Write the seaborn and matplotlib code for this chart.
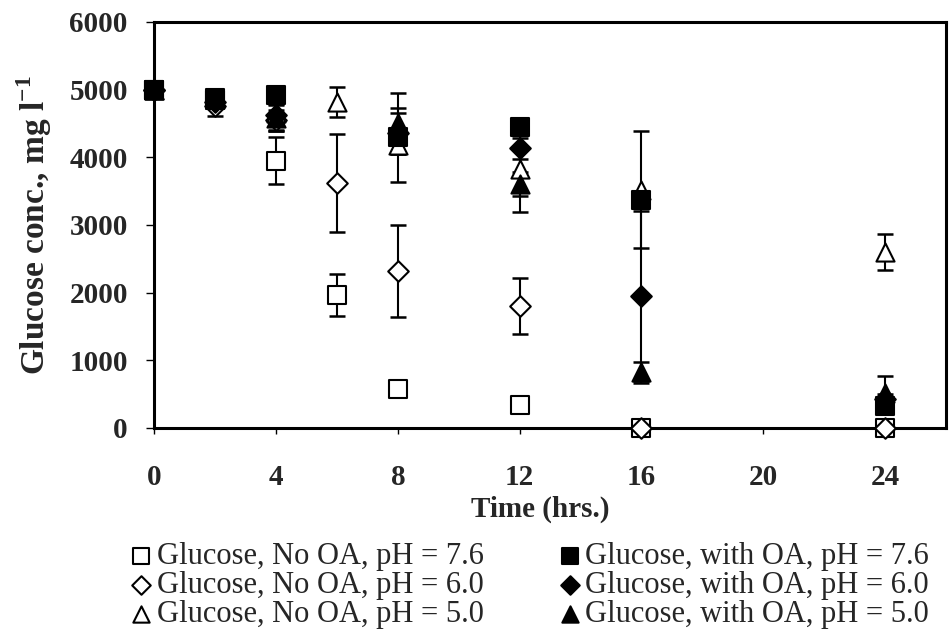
import matplotlib
matplotlib.use("Agg")
import matplotlib.pyplot as plt
import seaborn as sns
import pandas as pd

# ---- data ----
times_no_oa = [0, 2, 4, 6, 8, 12, 16, 24]
times_oa = [0, 2, 4, 8, 12, 16, 24]

no_oa_76 = [5000, 4880, 3950, 1960, 580, 340, 0, 0]
no_oa_76_err = [0, 80, 350, 310, 90, 60, 0, 0]
no_oa_60 = [5000, 4760, 4550, 3620, 2320, 1800, 0, 0]
no_oa_60_err = [0, 150, 150, 720, 680, 420, 0, 0]
no_oa_50 = [5000, 4870, 4650, 4820, 4180, 3830, 3520, 2600]
no_oa_50_err = [0, 80, 120, 220, 540, 640, 860, 270]

oa_76 = [5000, 4850, 4920, 4300, 4450, 3370, 320]
oa_76_err = [0, 60, 80, 100, 60, 100, 60]
oa_60 = [5000, 4820, 4620, 4350, 4130, 1950, 420]
oa_60_err = [0, 80, 230, 300, 150, 1260, 80]
oa_50 = [5000, 4860, 4580, 4500, 3600, 820, 520]
oa_50_err = [0, 80, 200, 450, 180, 150, 250]

labels = [
    "Glucose, No OA, pH = 7.6",
    "Glucose, No OA, pH = 6.0",
    "Glucose, No OA, pH = 5.0",
    "Glucose, with OA, pH = 7.6",
    "Glucose, with OA, pH = 6.0",
    "Glucose, with OA, pH = 5.0",
]
x_ticks = [0, 4, 8, 12, 16, 20, 24]
y_ticks = [0, 1000, 2000, 3000, 4000, 5000, 6000]

series = [
    (times_no_oa, no_oa_76, no_oa_76_err, labels[0]),
    (times_no_oa, no_oa_60, no_oa_60_err, labels[1]),
    (times_no_oa, no_oa_50, no_oa_50_err, labels[2]),
    (times_oa, oa_76, oa_76_err, labels[3]),
    (times_oa, oa_60, oa_60_err, labels[4]),
    (times_oa, oa_50, oa_50_err, labels[5]),
]
frames = []
for t, v, e, lab in series:
    frames.append(pd.DataFrame({"Time": t, "Glucose": v, "err": e, "Series": lab}))
df = pd.concat(frames, ignore_index=True)

# ---- style ----
sns.set_style("ticks")
plt.rcParams["font.family"] = ["Liberation Serif", "DejaVu Serif"]
plt.rcParams["mathtext.fontset"] = "custom"
plt.rcParams["mathtext.rm"] = "Liberation Serif"
plt.rcParams["mathtext.bf"] = "Liberation Serif:bold"

fig = plt.figure(figsize=(9.52, 6.42), dpi=100)
ax = fig.add_axes([0.162, 0.3335, 0.8317, 0.6325])

markers = {labels[0]: "s", labels[1]: "D", labels[2]: "^",
           labels[3]: "s", labels[4]: "D", labels[5]: "^"}
faces = {labels[0]: "white", labels[1]: "white", labels[2]: "white",
         labels[3]: "black", labels[4]: "black", labels[5]: "black"}
sizes = {"s": 160, "D": 110, "^": 170}

# error bars first
for lab in labels:
    sub = df[(df["Series"] == lab) & (df["err"] > 0)]
    ax.errorbar(sub["Time"], sub["Glucose"], yerr=sub["err"], fmt="none",
                ecolor="black", elinewidth=1.5, capsize=6, capthick=1.8, zorder=2)

for lab in labels:
    sub = df[df["Series"] == lab]
    m = markers[lab]
    sns.scatterplot(data=sub, x="Time", y="Glucose", marker=m, s=sizes[m],
                    color=faces[lab], edgecolor="black", linewidth=1.5,
                    label=lab, ax=ax, zorder=3, clip_on=False)

ax.set_xlim(0, 26)
ax.set_ylim(0, 6000)
ax.set_xticks(x_ticks)
ax.set_yticks(y_ticks)
ax.set_xticklabels([str(v) for v in x_ticks], fontsize=21, fontweight="bold")
ax.set_yticklabels([str(v) for v in y_ticks], fontsize=21, fontweight="bold")
ax.tick_params(axis="x", direction="out", length=4, width=1, color="black", pad=22)
ax.tick_params(axis="y", direction="out", length=6, width=1, color="black", pad=13)
for sp in ax.spines.values():
    sp.set_visible(True)
    sp.set_linewidth(2.2)
    sp.set_color("black")

ax.set_xlabel("Time (hrs.)", fontsize=21, fontweight="bold")
ax.set_ylabel(r"Glucose conc., mg l$^{\mathbf{-1}}$", fontsize=24, fontweight="bold")
ax.xaxis.set_label_coords(0.487, -0.167)
ax.yaxis.set_label_coords(-0.127, 0.5)

handles, labs = ax.get_legend_handles_labels()
ax.get_legend().remove()
leg = fig.legend(handles, labs,
                 loc="upper left", bbox_to_anchor=(0.1355, 0.155), ncol=2,
                 frameon=False, fontsize=22, handletextpad=0.12,
                 columnspacing=2.4, labelspacing=0.0, handlelength=0.8,
                 markerscale=0.9, borderaxespad=0, borderpad=0)

fig.savefig("out.png", dpi=100)
